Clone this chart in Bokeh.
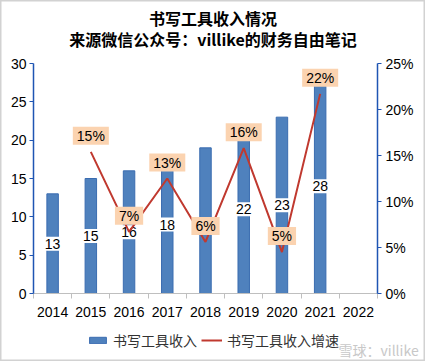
from bokeh.plotting import figure
from bokeh.models import (Range1d, LinearAxis, FixedTicker, PrintfTickFormatter,
                          Legend, LegendItem, Label)
from bokeh.core.properties import value
from bokeh.embed import file_html
from bokeh.resources import INLINE

# ---- data ----
years = ["2014", "2015", "2016", "2017", "2018", "2019", "2020", "2021", "2022"]
revenue_years = ["2014", "2015", "2016", "2017", "2018", "2019", "2020", "2021"]
revenue = [13, 15, 16, 18, 19, 22, 23, 28]
revenue_labels = ["13", "15", "16", "18", "", "22", "23", "28"]   # 2018 label hidden in the source
growth_years = ["2015", "2016", "2017", "2018", "2019", "2020", "2021"]
growth = [15.4, 6.7, 12.5, 5.6, 15.8, 4.5, 21.7]
growth_labels = ["15%", "7%", "13%", "6%", "16%", "5%", "22%"]
left_ticks = [0, 5, 10, 15, 20, 25, 30]
right_ticks = [0, 5, 10, 15, 20, 25]

title_lines = ["书写工具收入情况", "来源微信公众号：villike的财务自由笔记"]
legend_bar = "书写工具收入"
legend_line = "书写工具收入增速"
watermark = "雪球：villike"

# ---- styles / layout (pixels) ----
W, H = 425, 361
AREA_L, AREA_T = 33, 63            # top-left of the value area
AREA_W, AREA_H = 344, 230          # size of the value area (axes extents)
NUM_FONT = "Liberation Sans"
CJK_FONT = "Noto Sans CJK SC"
AXIS_BLUE = "#1f55b3"
BAR_FILL = "#4f81bd"
BAR_LINE = "#3a6cb0"
LINE_RED = "#c0392f"
PEACH = "#fbd3b0"

idx = {y: i for i, y in enumerate(years)}
bar_x = [idx[y] for y in revenue_years]
line_x = [idx[y] for y in growth_years]
lab_x = [idx[y] for y, t in zip(revenue_years, revenue_labels) if t]
lab_y = [v / 2 for v, t in zip(revenue, revenue_labels) if t]
lab_t = [t for t in revenue_labels if t]

cat_px = AREA_W / len(years)
left_px = AREA_H / (left_ticks[-1] - left_ticks[0])
right_px = AREA_H / (right_ticks[-1] - right_ticks[0])
x_start = -0.5 - AREA_L / cat_px
x_end = -0.5 + (W - AREA_L) / cat_px
below_px = H - AREA_T - AREA_H
y_start = left_ticks[0] - below_px / left_px
y_end = left_ticks[-1] + AREA_T / left_px
pct_start = right_ticks[0] - below_px / right_px
pct_end = right_ticks[-1] + AREA_T / right_px

p = figure(width=W, height=H, x_range=Range1d(x_start, x_end),
           y_range=Range1d(y_start, y_end),
           output_backend="svg", toolbar_location=None,
           min_border_left=0, min_border_right=0, min_border_top=0, min_border_bottom=0)
p.extra_y_ranges = {"pct": Range1d(pct_start, pct_end)}
p.outline_line_color = "#d2d2d2"
p.outline_line_width = 2
p.grid.visible = False
p.background_fill_color = "white"
p.border_fill_color = "white"

# x axis (drawn at value 0)
xa = p.xaxis[0]
xa.fixed_location = 0
xa.bounds = (-0.5, len(years) - 0.5)
xa.ticker = FixedTicker(ticks=list(range(len(years))),
                        minor_ticks=[i - 0.5 for i in range(len(years) + 1)])
xa.major_label_overrides = {i: y for i, y in enumerate(years)}
xa.major_tick_out = 0
xa.major_tick_in = 0
xa.minor_tick_out = 5
xa.minor_tick_in = 0
xa.minor_tick_line_color = "#bfbfbf"
xa.axis_line_color = "#bfbfbf"
xa.major_label_text_font = NUM_FONT
xa.major_label_text_font_size = "14px"
xa.major_label_text_color = "#000000"
xa.major_label_standoff = 8

# left axis
ya = p.yaxis[0]
ya.ticker = FixedTicker(ticks=left_ticks)
ya.bounds = (left_ticks[0], left_ticks[-1])
ya.fixed_location = -0.5

# right axis
ra = LinearAxis(y_range_name="pct", ticker=FixedTicker(ticks=right_ticks),
                formatter=PrintfTickFormatter(format="%d%%"),
                fixed_location=len(years) - 0.5,
                bounds=(right_ticks[0], right_ticks[-1]))
p.add_layout(ra, "right")
for ax in [ya, ra]:
    ax.axis_line_color = AXIS_BLUE
    ax.axis_line_width = 1.5
    ax.major_tick_line_color = AXIS_BLUE
    ax.major_tick_out = 4
    ax.major_tick_in = 0
    ax.minor_tick_line_color = None
    ax.major_label_text_font = NUM_FONT
    ax.major_label_text_font_size = "14px"
    ax.major_label_text_color = "#000000"
    ax.major_label_standoff = 3
ra.major_label_standoff = 4

# bars
bars = p.vbar(x=bar_x, top=revenue, width=0.3, fill_color=BAR_FILL, line_color=BAR_LINE, line_width=1)
p.text(x=lab_x, y=lab_y, text=lab_t, text_align="center", text_baseline="middle",
       text_font=value(NUM_FONT), text_font_size="14px", text_color="#000000",
       background_fill_color="white", padding=(2, 2))

# growth line
ln = p.line(x=line_x, y=growth, y_range_name="pct", line_color=LINE_RED, line_width=2)
p.text(x=line_x, y=growth, y_range_name="pct", text=growth_labels, y_offset=-16,
       text_align="center", text_baseline="middle",
       text_font=value(NUM_FONT), text_font_size="14px", text_color="#000000",
       background_fill_color=PEACH, padding=(4, 1))

# titles
for line, ty in zip(title_lines, [17.5, 38]):
    p.add_layout(Label(x=W / 2, y=H - ty, x_units="screen", y_units="screen", text=line,
                       text_align="center", text_baseline="middle",
                       text_font=CJK_FONT, text_font_size="16px", text_font_style="bold",
                       text_color="#000000"))

# legend
legend = Legend(items=[LegendItem(label=legend_bar, renderers=[bars]),
                       LegendItem(label=legend_line, renderers=[ln])],
                orientation="horizontal", location=(87, 11),
                glyph_width=21, glyph_height=8, label_standoff=5, spacing=4,
                padding=0, margin=0, border_line_color=None, background_fill_alpha=0,
                label_text_font=CJK_FONT, label_text_font_size="14px", label_text_color="#333333")
p.add_layout(legend, "center")

p.add_layout(Label(x=338, y=12, x_units="screen", y_units="screen", text=watermark,
                   text_baseline="middle",
                   text_font=CJK_FONT, text_font_size="14px", text_color="#c8c8c8"))

open("out.html", "w").write(file_html(p, INLINE))
